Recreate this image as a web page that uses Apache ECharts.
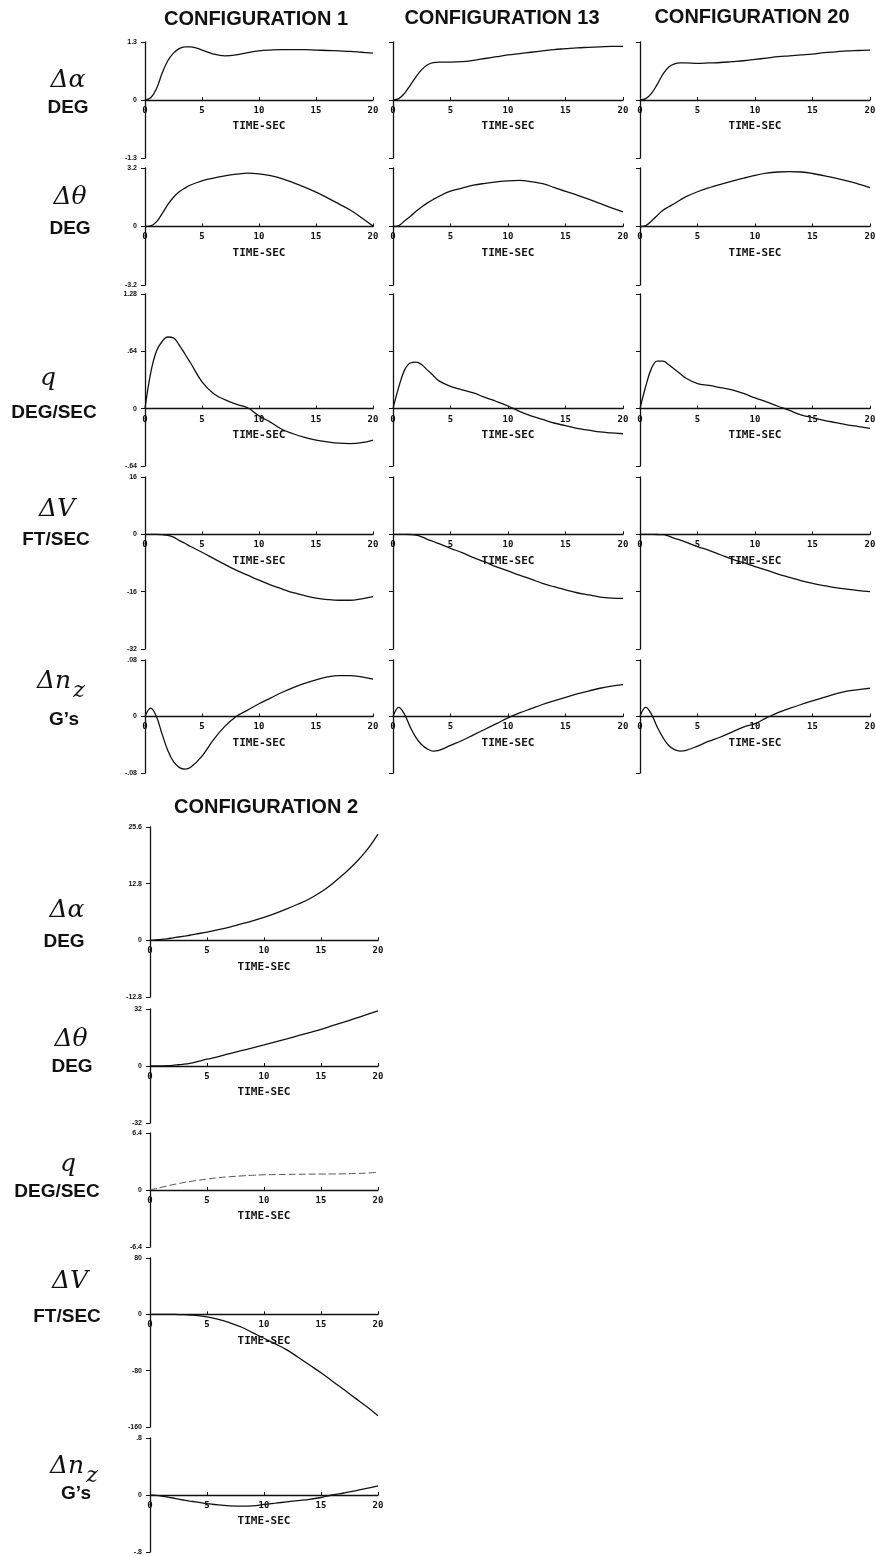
<!DOCTYPE html>
<html><head><meta charset="utf-8">
<script src="https://cdn.jsdelivr.net/npm/echarts@6/dist/echarts.min.js"></script>
<style>html,body{margin:0;padding:0;background:#fff}#c{width:876px;height:1556px}</style>
</head><body><div id="c"></div>
<script>
// ---------- DATA ----------
const time = [0,0.5,1,1.5,2,2.5,3,3.5,4,5,6,7,8,9,10,11,12,13,14,15,16,17,18,19,20];

const c1Alpha  = [0,0.05,0.25,0.6,0.88,1.05,1.15,1.19,1.19,1.12,1.03,0.99,1.01,1.06,1.10,1.12,1.13,1.13,1.13,1.12,1.11,1.10,1.09,1.07,1.05];
const c13Alpha = [0,0.03,0.15,0.33,0.52,0.68,0.79,0.84,0.85,0.85,0.86,0.89,0.93,0.97,1.01,1.04,1.07,1.10,1.13,1.15,1.17,1.18,1.19,1.2,1.2];
const c20Alpha = [0,0.03,0.15,0.35,0.58,0.74,0.81,0.83,0.83,0.82,0.83,0.84,0.86,0.88,0.91,0.94,0.97,0.99,1.01,1.03,1.06,1.08,1.10,1.11,1.12];

const c1Theta  = [0,0.03,0.25,0.7,1.2,1.6,1.9,2.1,2.27,2.5,2.65,2.77,2.86,2.92,2.88,2.78,2.62,2.4,2.15,1.88,1.57,1.24,0.9,0.48,0.02];
const c13Theta = [0,0.05,0.3,0.55,0.83,1.07,1.29,1.48,1.65,1.93,2.1,2.26,2.36,2.44,2.5,2.52,2.46,2.34,2.14,1.92,1.72,1.5,1.26,1.02,0.8];
const c20Theta = [0,0.05,0.3,0.6,0.89,1.08,1.26,1.45,1.63,1.9,2.12,2.31,2.48,2.64,2.8,2.92,2.98,3.0,2.98,2.9,2.78,2.65,2.5,2.32,2.13];

const c1Q  = [0,0.4,0.64,0.75,0.80,0.79,0.71,0.61,0.51,0.30,0.17,0.10,0.05,0.01,-0.08,-0.15,-0.23,-0.28,-0.32,-0.35,-0.37,-0.385,-0.39,-0.38,-0.35];
const c13Q = [0,0.24,0.43,0.51,0.52,0.49,0.43,0.37,0.31,0.25,0.21,0.175,0.125,0.08,0.03,-0.03,-0.08,-0.12,-0.16,-0.19,-0.22,-0.24,-0.26,-0.27,-0.28];
const c20Q = [0,0.25,0.45,0.53,0.53,0.49,0.44,0.39,0.34,0.28,0.26,0.235,0.21,0.17,0.12,0.076,0.027,-0.02,-0.07,-0.10,-0.13,-0.155,-0.18,-0.20,-0.22];

const c1V  = [0,0,0,-0.1,-0.3,-0.8,-1.7,-2.5,-3.4,-5.0,-6.7,-8.4,-10,-11.4,-12.8,-14.1,-15.2,-16.3,-17.1,-17.8,-18.2,-18.4,-18.4,-18.0,-17.4];
const c13V = [0,0,-0.02,-0.05,-0.2,-0.7,-1.4,-2.0,-2.6,-3.9,-5.1,-6.5,-7.7,-9.1,-10.2,-11.4,-12.5,-13.7,-14.6,-15.5,-16.3,-16.9,-17.5,-17.8,-17.9];
const c20V = [0,0,-0.02,-0.05,-0.1,-0.5,-1.1,-1.6,-2.2,-3.4,-4.5,-5.7,-6.9,-7.9,-9.0,-10.0,-11.1,-12.0,-12.9,-13.7,-14.3,-14.9,-15.3,-15.7,-16.0];

const c1Nz  = [0,0.012,0,-0.025,-0.048,-0.064,-0.072,-0.0745,-0.072,-0.056,-0.033,-0.014,0,0.009,0.018,0.026,0.034,0.041,0.047,0.052,0.056,0.058,0.058,0.056,0.053];
const c13Nz = [0,0.013,0.003,-0.015,-0.030,-0.040,-0.046,-0.049,-0.048,-0.041,-0.034,-0.026,-0.018,-0.01,-0.002,0.005,0.011,0.017,0.022,0.027,0.032,0.036,0.040,0.043,0.045];
const c20Nz = [0,0.013,0.003,-0.015,-0.030,-0.041,-0.047,-0.049,-0.048,-0.042,-0.035,-0.029,-0.022,-0.015,-0.01,-0.002,0.0055,0.0115,0.017,0.022,0.027,0.032,0.036,0.038,0.040];

const c2Alpha = [0,0.1,0.2,0.35,0.55,0.75,0.95,1.15,1.4,1.87,2.4,3.0,3.7,4.4,5.2,6.1,7.1,8.2,9.4,10.9,12.8,15.0,17.4,20.3,24.0];
const c2Theta = [0,0.02,0.1,0.2,0.4,0.7,1.0,1.5,2.2,3.8,5.3,7.0,8.6,10.2,11.8,13.5,15.2,17.0,18.8,20.6,22.6,24.6,26.7,28.8,31.0];
const c2Q     = [0,0.15,0.3,0.45,0.6,0.72,0.85,0.95,1.05,1.22,1.38,1.49,1.58,1.65,1.71,1.73,1.75,1.77,1.78,1.79,1.8,1.82,1.85,1.9,1.98];
const c2V     = [0,0,0,0,-0.1,-0.3,-0.5,-1.0,-1.5,-3.7,-7,-12,-18,-26,-34,-42,-50.5,-61,-72,-83,-95,-106.7,-119,-131,-144];
const c2Nz    = [0,-0.006,-0.015,-0.028,-0.042,-0.058,-0.072,-0.085,-0.097,-0.12,-0.14,-0.152,-0.157,-0.152,-0.133,-0.115,-0.096,-0.079,-0.062,-0.035,0,0.028,0.058,0.092,0.129];

// tick values
const timeTicks   = [0,5,10,15,20];
const alphaTicks  = [-1.3,0,1.3];
const thetaTicks  = [-3.2,0,3.2];
const qTicks      = [-0.64,0,0.64,1.28];
const vTicks      = [-32,-16,0,16];
const nzTicks     = [-0.08,0,0.08];
const c2AlphaTicks = [-12.8,0,12.8,25.6];
const c2ThetaTicks = [-32,0,32];
const c2QTicks     = [-6.4,0,6.4];
const c2VTicks     = [-160,-80,0,80];
const c2NzTicks    = [-0.8,0,0.8];

const configTitles = ['CONFIGURATION 1','CONFIGURATION 13','CONFIGURATION 20','CONFIGURATION 2'];
const xName = 'TIME-SEC';

// ---------- LAYOUT ----------
const cols = [[145,228],[393,230],[640,230]];
const c2Col = [150,228];
const topRows = [[42,158],[168,285],[294,466],[477,649],[660,773]];
const c2Rows = [[827,997],[1009,1123],[1133,1247],[1258,1427],[1438,1552]];

const topSeries = [
  [c1Alpha, c1Theta, c1Q, c1V, c1Nz],
  [c13Alpha, c13Theta, c13Q, c13V, c13Nz],
  [c20Alpha, c20Theta, c20Q, c20V, c20Nz]
];
const topTicks = [alphaTicks, thetaTicks, qTicks, vTicks, nzTicks];
const c2Series = [c2Alpha, c2Theta, c2Q, c2V, c2Nz];
const c2TickSets = [c2AlphaTicks, c2ThetaTicks, c2QTicks, c2VTicks, c2NzTicks];

const panels = [];
for (let c = 0; c < 3; c++) {
  for (let r = 0; r < 5; r++) {
    panels.push({col: cols[c], row: topRows[r], data: topSeries[c][r], ticks: topTicks[r], labels: c === 0, faint: false});
  }
}
for (let r = 0; r < 5; r++) {
  panels.push({col: c2Col, row: c2Rows[r], data: c2Series[r], ticks: c2TickSets[r], labels: true, faint: r === 2});
}

function fmt(v) {
  if (Math.abs(v) < 1e-9) return '0';
  let s = String(+v.toFixed(3));
  return s.replace(/^(-?)0\./, '$1.');
}

const ink = '#111';
const grid = [], xAxis = [], yAxis = [], series = [];
panels.forEach((p, i) => {
  const h = p.row[1] - p.row[0];
  const t = p.ticks;
  const yMin = t[0], yMax = t[t.length - 1];
  // place the time axis on the zero line of the value axis
  const zeroOffset = -h * (0 - yMin) / (yMax - yMin);
  grid.push({left: p.col[0], top: p.row[0], width: p.col[1], height: h, containLabel: false, outerBoundsMode: 'none'});
  xAxis.push({
    gridIndex: i, type: 'value', min: timeTicks[0], max: timeTicks[timeTicks.length - 1],
    interval: timeTicks[1] - timeTicks[0],
    position: 'bottom', offset: zeroOffset,
    name: xName, nameLocation: 'middle', nameGap: 21,
    nameTextStyle: {fontFamily: 'DejaVu Sans Mono', fontSize: 11, fontWeight: 'bold', color: ink},
    axisLine: {show: true, onZero: false, lineStyle: {color: ink, width: 1.3}},
    axisTick: {show: true, inside: true, length: 3, lineStyle: {color: ink, width: 1}},
    axisLabel: {show: true, fontFamily: 'DejaVu Sans Mono', fontSize: 9, fontWeight: 'bold', color: ink, margin: 6},
    splitLine: {show: false}
  });
  yAxis.push({
    gridIndex: i, type: 'value', min: yMin, max: yMax, interval: t[1] - t[0],
    axisLine: {show: true, onZero: false, lineStyle: {color: ink, width: 1.3}},
    axisTick: {show: true, inside: false, length: 4, lineStyle: {color: ink, width: 1}},
    axisLabel: {show: p.labels, fontFamily: 'Liberation Sans', fontSize: 7, fontWeight: 'bold', color: ink, margin: 8, formatter: fmt},
    splitLine: {show: false}
  });
  series.push({
    type: 'line', xAxisIndex: i, yAxisIndex: i,
    data: time.map((tt, k) => [tt, p.data[k]]),
    showSymbol: false, smooth: 0.4, silent: true,
    lineStyle: p.faint ? {color: '#555', width: 1, type: [7, 3]} : {color: ink, width: 1.3}
  });
});

// ---------- TEXT LABELS ----------
const g = [];
function txt(s, x, y, font, extra) {
  g.push(Object.assign({type: 'text', x: x, y: y, silent: true,
    style: {text: s, font: font, fill: ink, align: 'center', verticalAlign: 'middle', textAlign: 'center', textVerticalAlign: 'middle'}}, extra || {}));
}
const titleFont = 'bold 20px "Liberation Sans", Arial, sans-serif';
const unitFont = 'bold 19px "Liberation Sans", Arial, sans-serif';
const symFont = 'italic 25px "DejaVu Serif", serif';
txt(configTitles[0], 256, 19, titleFont);
txt(configTitles[1], 502, 18, titleFont);
txt(configTitles[2], 752, 17, titleFont);
txt(configTitles[3], 266, 807, titleFont);

function nz(cx, cy) {
  txt('Δn', cx - 6, cy, symFont);
  txt('z', cx + 19, cy + 10, 'italic 22px "DejaVu Serif", serif');
}
// top block
txt('Δα', 68, 80, symFont);   txt('DEG', 68, 108, unitFont);
txt('Δθ', 70, 197, symFont);  txt('DEG', 70, 229, unitFont);
txt('q', 48, 378, symFont);   txt('DEG/SEC', 54, 413, unitFont);
txt('ΔV', 57, 509, symFont);  txt('FT/SEC', 56, 540, unitFont);
nz(60, 681);                  txt('G’s', 64, 720, unitFont);
// configuration 2
txt('Δα', 67, 910, symFont);  txt('DEG', 64, 942, unitFont);
txt('Δθ', 71, 1039, symFont); txt('DEG', 72, 1067, unitFont);
txt('q', 68, 1164, symFont);  txt('DEG/SEC', 57, 1192, unitFont);
txt('ΔV', 70, 1281, symFont); txt('FT/SEC', 67, 1317, unitFont);
nz(73, 1466);                 txt('G’s', 76, 1494, unitFont);

const chart = echarts.init(document.getElementById('c'), null, {renderer: 'canvas'});
chart.setOption({
  backgroundColor: '#fff',
  animation: false,
  grid: grid, xAxis: xAxis, yAxis: yAxis, series: series,
  graphic: g
});
</script></body></html>
